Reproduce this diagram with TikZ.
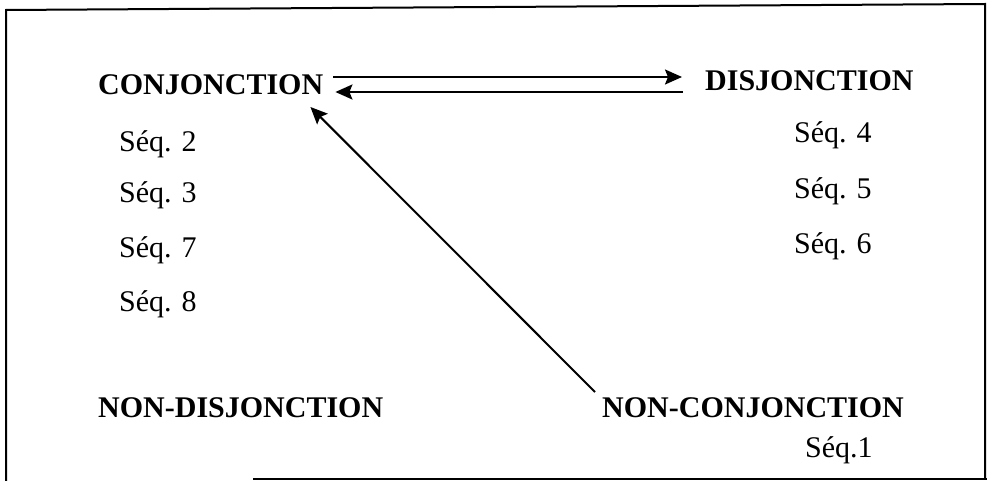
\documentclass[tikz,border=0pt]{standalone}
\usepackage{fontspec}
\setmainfont{Liberation Serif}
\usetikzlibrary{arrows.meta}
\tikzset{pole/.style={font=\fontsize{30}{31}\selectfont\bfseries, inner sep=0pt, anchor=base west},
         seq/.style={font=\fontsize{30}{31}\selectfont, inner sep=0pt, anchor=base west},
         flow/.style={line width=2pt, -{Stealth[length=17pt,width=15pt,inset=3pt]}}}

\begin{document}
\begin{tikzpicture}[x=1pt,y=-1pt]
\useasboundingbox (0,0) rectangle (987,481);
\draw [line width=2pt] (6,481) -- (6,10) -- (985,4) -- (985,479);
\draw [line width=2pt] (253,479) -- (987,479);
\node [pole] (conj) at (98,95) {CONJONCTION};
\node [pole] (disj) at (705,91) {DISJONCTION};
\node [pole] (nondisj) at (98,417) {NON-DISJONCTION};
\node [pole] (nonconj) at (602,417) {NON-CONJONCTION};
\node [seq] (s2) at (119,152) {Séq. 2};
\node [seq] (s3) at (119,203) {Séq. 3};
\node [seq] (s7) at (119,257) {Séq. 7};
\node [seq] (s8) at (119,311) {Séq. 8};
\node [seq] (s4) at (794,143) {Séq. 4};
\node [seq] (s5) at (794,198) {Séq. 5};
\node [seq] (s6) at (794,253) {Séq. 6};
\node [seq] (s1) at (805,457) {Séq.1};
\draw [flow] ([shift={(10,-18)}]conj.base east) -- ([shift={(-23,-14)}]disj.base west);
\draw [flow] ([shift={(-22,1)}]disj.base west) -- ([shift={(12,-3)}]conj.base east);
\draw [flow] ([shift={(-7,-25)}]nonconj.base west) -- ([shift={(-13,12)}]conj.base east);
\end{tikzpicture}
\end{document}
